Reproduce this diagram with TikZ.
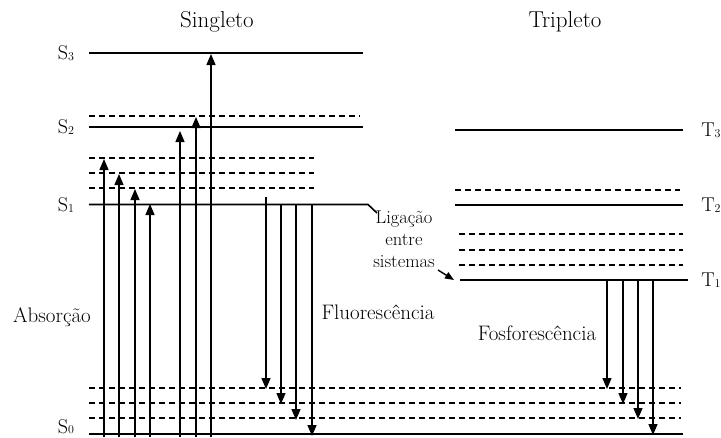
\documentclass[tikz,border=0pt]{standalone}
\usetikzlibrary{arrows.meta}
\newcommand{\lsub}[1]{{\fontsize{12}{12}\selectfont\raisebox{-0.8pt}{#1}}}
\begin{document}
\begin{tikzpicture}[x=1pt,y=-1pt,
  level/.style={line width=1.6pt},
  sublevel/.style={line width=1.3pt, dash pattern=on 6pt off 4pt},
  trans/.style={line width=1.4pt, -{Triangle[length=11pt,width=9pt]}},
  title/.style={font=\fontsize{23}{27}\selectfont, inner sep=0pt},
  lab/.style={font=\fontsize{21}{25}\selectfont, inner sep=0pt},
  lvl/.style={font=\fontsize{20}{23}\selectfont, inner sep=0pt},
  small/.style={font=\fontsize{18.5}{22}\selectfont, inner sep=0pt, align=center}
]
\useasboundingbox (0,0) rectangle (721,437);

% titles
\node[title] (sing) at (217,22) {Singleto};
\node[title] (trip) at (565,22) {Tripleto};

% level labels
\node[lvl] (S3) at (66,53) {S\lsub{3}};
\node[lvl] (S2) at (66,127) {S\lsub{2}};
\node[lvl] (S1) at (66,205) {S\lsub{1}};
\node[lvl, anchor=base] (S0) at (66,433) {S\lsub{0}};
\node[lvl] (T3) at (711,130) {T\lsub{3}};
\node[lvl] (T2) at (711,205) {T\lsub{2}};
\node[lvl] (T1) at (711,280) {T\lsub{1}};

% singlet levels
\coordinate (s3l) at (89,53);   \coordinate (s3r) at (363,53);
\coordinate (s2dl) at (89,116); \coordinate (s2dr) at (360,116);
\coordinate (s2l) at (89,127);  \coordinate (s2r) at (363,127);
\coordinate (s1l) at (89,204.5);\coordinate (s1r) at (368,204.5);
\coordinate (s0l) at (89,434);  \coordinate (s0r) at (683,434);
\draw[level] (s3l) -- (s3r);
\draw[sublevel] (s2dl) -- (s2dr);
\draw[level] (s2l) -- (s2r);
\foreach \y/\n in {158/a,173/b,188/c}{
  \coordinate (s1d\n l) at (89,\y); \coordinate (s1d\n r) at (314,\y);
  \draw[sublevel] (s1d\n l) -- (s1d\n r);
}
\foreach \y/\n in {388/a,403/b,418/c}{
  \coordinate (s0d\n l) at (89,\y); \coordinate (s0d\n r) at (681,\y);
  \draw[sublevel] (s0d\n l) -- (s0d\n r);
}
\draw[level] (s0l) -- (s0r);

% triplet levels
\coordinate (t3l) at (455,130); \coordinate (t3r) at (683,130);
\coordinate (t2dl) at (455,190);\coordinate (t2dr) at (680,190);
\coordinate (t2l) at (455,205); \coordinate (t2r) at (683,205);
\coordinate (t1l) at (460,280); \coordinate (t1r) at (688,280);
\draw[level] (t3l) -- (t3r);
\draw[sublevel] (t2dl) -- (t2dr);
\draw[level] (t2l) -- (t2r);
\foreach \y/\n in {234/a,250/b,265/c}{
  \coordinate (t1d\n l) at (459,\y); \coordinate (t1d\n r) at (683,\y);
  \draw[sublevel] (t1d\n l) -- (t1d\n r);
}
\draw[level] (t1l) -- (t1r);

% intersystem crossing
\node[small] (isc) at (404,239) {Ligação\\entre\\sistemas};
\coordinate (iscin) at (377,213);
\coordinate (iscout) at (438,270);
\coordinate (iscend) at (454,280);
\draw[level, line join=miter] (s1l) -- (s1r) -- (iscin);
\draw[line width=1.4pt, -{Triangle[length=9pt,width=7pt]}] (iscout) -- (iscend);

% absorption
\foreach \x/\yt/\n in {104/159/1,119/174/2,135/189/3,150/204/4,180/131/5,196/117/6,211/54/7}{
  \coordinate (ab\n s) at (\x,437); \coordinate (ab\n e) at (\x,\yt);
  \draw[trans] (ab\n s) -- (ab\n e);
}
\node[lab] (abs) at (52,317) {Absorção};

% fluorescence
\foreach \x/\ys/\ye/\n in {266/197/389/1,281/204.5/404/2,296/204.5/420/3,312/204.5/436/4}{
  \coordinate (fl\n s) at (\x,\ys); \coordinate (fl\n e) at (\x,\ye);
  \draw[trans] (fl\n s) -- (fl\n e);
}
\node[lab] (flu) at (378,312) {Fluorescência};

% phosphorescence
\foreach \x/\ye/\n in {607/389/1,623/404/2,638/419/3,653/435/4}{
  \coordinate (ph\n s) at (\x,280); \coordinate (ph\n e) at (\x,\ye);
  \draw[trans] (ph\n s) -- (ph\n e);
}
\node[lab] (fos) at (537,333) {Fosforescência};
\end{tikzpicture}
\end{document}
